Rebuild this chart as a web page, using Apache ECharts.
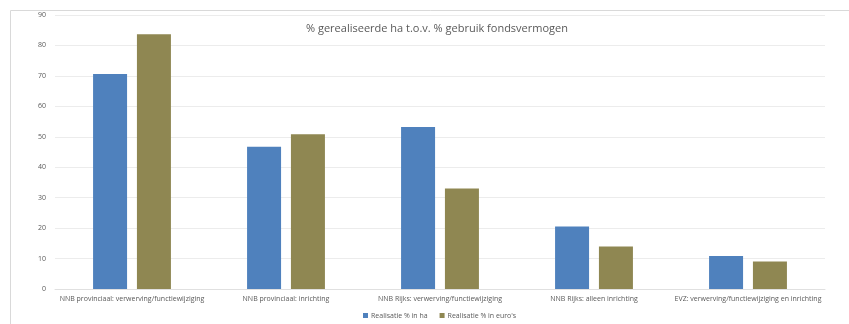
<!DOCTYPE html>
<html><head><meta charset="utf-8">
<script src="https://cdn.jsdelivr.net/npm/echarts@6/dist/echarts.min.js"></script>
<style>html,body{margin:0;padding:0;background:#fff}#c{width:849px;height:324px}</style>
</head><body><div id="c"></div>
<script>
const categories = ["NNB provinciaal: verwerving/functiewijziging","NNB provinciaal: inrichting","NNB Rijks: verwerving/functiewijziging","NNB Rijks: alleen inrichting","EVZ: verwerving/functiewijziging en inrichting"];
const realisatieHa = [70.6, 46.7, 53.2, 20.5, 10.8];
const realisatieEuro = [83.7, 50.8, 33.0, 14.0, 9.0];
const seriesNames = ["Realisatie % in ha", "Realisatie % in euro's"];
const chart = echarts.init(document.getElementById('c'));
chart.setOption({
  animation:false,
  title:{text:"% gerealiseerde ha t.o.v. % gebruik fondsvermogen",left:432,textAlign:'center',top:18,textStyle:{fontFamily:'Open Sans',fontSize:11,fontWeight:'normal',color:'#595959'}},
  graphic:[{type:'rect',shape:{x:10.5,y:10.5,width:860,height:330},style:{fill:'none',stroke:'#d9d9d9',lineWidth:1},silent:true}],
  grid:{left:55,right:24,top:15,bottom:35,containLabel:false},
  legend:{bottom:0,left:358,itemWidth:5,itemHeight:5,itemGap:12,icon:'rect',textStyle:{fontFamily:'Open Sans',fontSize:7,color:'#595959',padding:[0,0,0,-2]}},
  xAxis:{type:'category',data:categories,axisTick:{show:false},axisLine:{lineStyle:{color:'#e0e0e0'}},axisLabel:{fontFamily:'Open Sans',fontSize:7,color:'#595959',margin:6,interval:0}},
  yAxis:{type:'value',min:0,max:90,interval:10,axisLabel:{fontFamily:'Open Sans',fontSize:7,color:'#595959',margin:9},splitLine:{lineStyle:{color:'#ececec'}}},
  series:[
    {name:seriesNames[0],type:'bar',data:realisatieHa,barWidth:34,barGap:'29%',itemStyle:{color:'#4F81BD'}},
    {name:seriesNames[1],type:'bar',data:realisatieEuro,barWidth:34,itemStyle:{color:'#8F8752'}}
  ]
});
</script></body></html>
